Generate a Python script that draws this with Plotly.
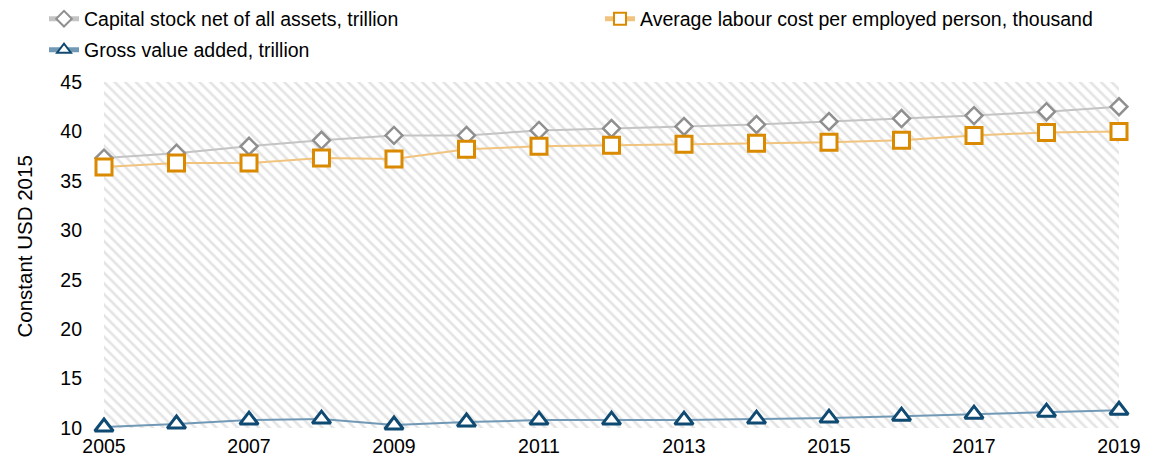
import plotly.graph_objects as go

years = list(range(2005, 2020))
capital_stock = [37.3, 37.8, 38.5, 39.1, 39.6, 39.6, 40.1, 40.3, 40.5, 40.7, 41.0, 41.3, 41.6, 42.0, 42.5]
labour_cost = [36.4, 36.8, 36.8, 37.3, 37.2, 38.2, 38.5, 38.6, 38.7, 38.8, 38.9, 39.1, 39.6, 39.9, 40.0]
gva = [10.1, 10.4, 10.8, 10.9, 10.3, 10.6, 10.8, 10.8, 10.8, 10.9, 11.0, 11.2, 11.4, 11.6, 11.8]
names = ["Capital stock net of all assets, trillion",
         "Average labour cost per employed person, thousand",
         "Gross value added, trillion"]
y_min, y_max = 10, 45
y_title = "Constant USD 2015"

font_family = "Liberation Sans, Arial, sans-serif"
# page body has an 8px margin, so the figure is drawn slightly smaller
W, H = 1145, 458
L, R, T, B = 96, 34, 74, 38
plot_w, plot_h = W - L - R, H - T - B

fig = go.Figure()

# hatched plot-area background
fig.add_trace(go.Scatter(
    x=[years[0], years[-1], years[-1], years[0], years[0]],
    y=[y_min, y_min, y_max, y_max, y_min],
    mode="lines", fill="toself", line=dict(width=0),
    fillcolor="rgba(0,0,0,0)",
    fillpattern=dict(shape="\\", fgcolor="#c9c9c9", bgcolor="white", size=7.5, solidity=0.35),
    showlegend=False, hoverinfo="skip",
))

fig.add_trace(go.Scatter(
    x=years, y=capital_stock, name=names[0], mode="lines+markers",
    line=dict(color="#c4c4c4", width=2),
    marker=dict(symbol="diamond", size=13, color="white", line=dict(color="#8f8f8f", width=2.5)),
    cliponaxis=False, legend="legend",
))
fig.add_trace(go.Scatter(
    x=years, y=labour_cost, name=names[1], mode="lines+markers",
    line=dict(color="#f0c47e", width=2),
    marker=dict(symbol="square", size=16, color="white", line=dict(color="#d98a00", width=3)),
    cliponaxis=False, legend="legend2",
))
fig.add_trace(go.Scatter(
    x=years, y=gva, name=names[2], mode="lines+markers",
    line=dict(color="#7199b6", width=2),
    marker=dict(symbol="triangle-up", size=16, color="white", line=dict(color="#0f4a72", width=3)),
    cliponaxis=False, legend="legend3",
))

leg_common = dict(xref="container", yref="container", xanchor="left", yanchor="middle",
                  font=dict(size=19.5), bgcolor="rgba(0,0,0,0)", itemsizing="constant")

fig.update_layout(
    width=W, height=H,
    margin=dict(l=L, r=R, t=T, b=B, autoexpand=False),
    paper_bgcolor="white", plot_bgcolor="white",
    font=dict(family=font_family, size=19.5, color="#000000"),
    showlegend=True,
    legend=dict(x=36 / W, y=1 - 11 / H, **leg_common),
    legend2=dict(x=592 / W, y=1 - 11 / H, **leg_common),
    legend3=dict(x=36 / W, y=1 - 42 / H, **leg_common),
    xaxis=dict(
        range=[years[0], years[-1]], tickmode="linear", tick0=2005, dtick=2,
        showgrid=True, gridcolor="#d9d9d9", gridwidth=1.5, tickangle=0,
        zeroline=False, showline=False, ticks="", automargin=False,
        tickfont=dict(size=19.5), ticklabelstandoff=4,
    ),
    yaxis=dict(
        range=[y_min, y_max], tickmode="linear", tick0=10, dtick=5,
        showgrid=True, gridcolor="#d9d9d9", gridwidth=1.5,
        zeroline=False, showline=False, ticks="", automargin=False,
        tickfont=dict(size=19.5), ticklabelstandoff=21,
    ),
    annotations=[dict(
        text=y_title, textangle=-90, showarrow=False,
        xref="paper", yref="paper", x=(15.5 - L) / plot_w, y=(H - B - 239) / plot_h,
        xanchor="center", yanchor="middle", font=dict(size=20.5),
    )],
)

fig.write_html("out.html")
